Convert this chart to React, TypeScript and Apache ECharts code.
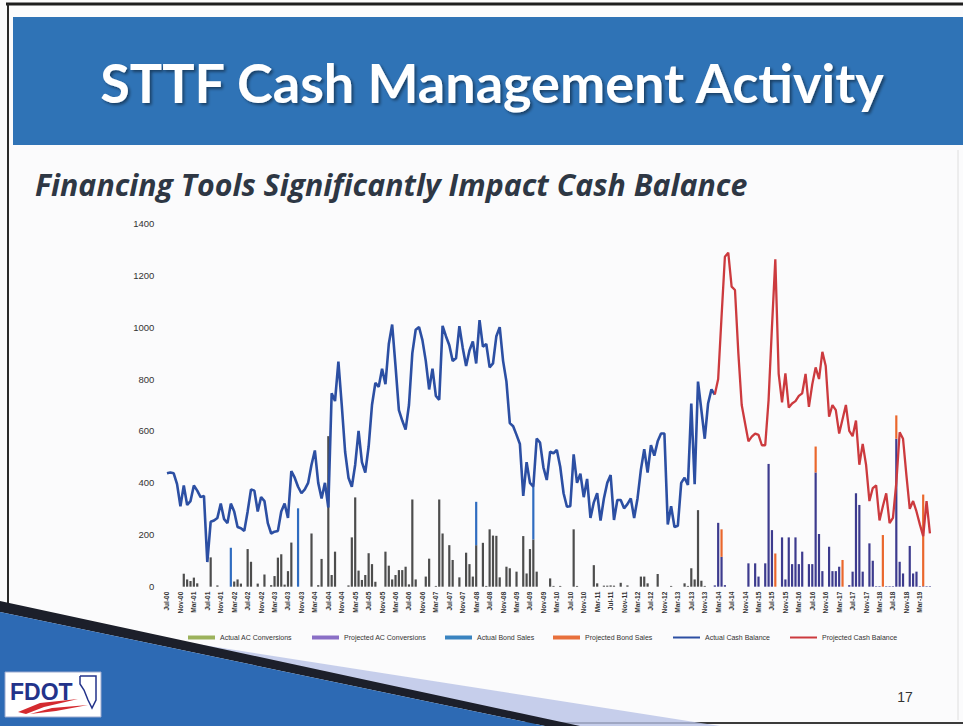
import React, { useEffect, useRef } from "react";
import * as echarts from "echarts";

const MONTH_NAMES = ["Jan", "Feb", "Mar", "Apr", "May", "Jun", "Jul", "Aug", "Sep", "Oct", "Nov", "Dec"];
// Monthly categories Jul-00 .. Jun-19
const categories: string[] = [];
for (let i = 0; i < 228; i++) {
  const m = (6 + i) % 12;
  const y = Math.floor((6 + i) / 12);
  categories.push(`${MONTH_NAMES[m]}-${String(y).padStart(2, "0")}`);
}

const yTicks = [0, 200, 400, 600, 800, 1000, 1200, 1400];

// Cash balance ($M), one value per month; projection starts Feb-14
const cashBalance: number[] = [
  437, 440, 437, 395, 310, 390, 315, 330, 390, 370, 345, 350,
  95, 250, 255, 265, 320, 260, 245, 320, 290, 230, 225, 215,
  290, 375, 370, 290, 345, 330, 245, 205, 212, 215, 290, 320,
  265, 445, 420, 385, 360, 375, 400, 470, 525, 400, 340, 400,
  305, 745, 715, 867, 700, 520, 420, 385, 470, 600, 480, 440,
  540, 700, 785, 770, 840, 780, 935, 1010, 850, 680, 640, 605,
  700, 900, 990, 1000, 950, 870, 760, 840, 735, 720, 1005, 965,
  930, 870, 880, 1004, 920, 850, 910, 945, 860, 1027, 925, 935,
  845, 860, 965, 1000, 870, 790, 630, 618, 585, 550, 350, 480,
  400, 385, 571, 555, 460, 411, 520, 514, 527, 462, 360, 308,
  310, 510, 400, 435, 345, 415, 265, 325, 360, 255, 340, 400,
  430, 257, 334, 334, 302, 318, 340, 265, 340, 450, 530, 440,
  545, 505, 560, 590, 590, 240, 310, 230, 235, 400, 420, 392,
  706, 395, 790, 680, 570, 706, 760, 740, 800, 1040, 1271, 1287,
  1156, 1143, 900, 700, 630, 560, 578, 590, 585, 545, 545, 720,
  1000, 1261, 820, 710, 822, 690, 706, 715, 735, 745, 820, 693,
  780, 845, 800, 905, 850, 655, 700, 680, 590, 645, 700, 600,
  580, 640, 470, 550, 470, 330, 380, 390, 255, 310, 360, 245,
  265, 400, 595, 570, 430, 300, 330, 290, 240, 195, 330, 205,
];
const projectionStart = "Feb-14";

const actualACConversions: [string, number][] = [
  ["Dec-00", 50], ["Jan-01", 28], ["Feb-01", 22], ["Mar-01", 35], ["Apr-01", 13],
  ["Aug-01", 113], ["Oct-01", 5], ["Mar-02", 20], ["Apr-02", 28], ["May-02", 12],
  ["Jul-02", 145], ["Aug-02", 96], ["Oct-02", 12], ["Dec-02", 47], ["Feb-03", 6],
  ["Mar-03", 41], ["Apr-03", 112], ["May-03", 125], ["Jun-03", 8], ["Jul-03", 60],
  ["Aug-03", 170], ["Feb-04", 205], ["Apr-04", 6], ["May-04", 107], ["Jul-04", 580],
  ["Aug-04", 45], ["Sep-04", 135], ["Jan-05", 5], ["Feb-05", 190], ["Mar-05", 344],
  ["Apr-05", 62], ["May-05", 26], ["Jun-05", 45], ["Jul-05", 129], ["Aug-05", 87],
  ["Sep-05", 19], ["Dec-05", 135], ["Jan-06", 81], ["Feb-06", 28], ["Mar-06", 45],
  ["Apr-06", 64], ["May-06", 64], ["Jun-06", 77], ["Jul-06", 9], ["Aug-06", 336],
  ["Sep-06", 28], ["Dec-06", 39], ["Jan-07", 108], ["Mar-07", 3], ["Apr-07", 336],
  ["May-07", 205], ["Jul-07", 160], ["Aug-07", 103], ["Oct-07", 36], ["Dec-07", 131],
  ["Jan-08", 87], ["Feb-08", 39], ["Mar-08", 160], ["May-08", 169], ["Jun-08", 3],
  ["Jul-08", 221], ["Aug-08", 197], ["Sep-08", 196], ["Oct-08", 36], ["Dec-08", 77],
  ["Jan-09", 71], ["Mar-09", 58], ["May-09", 195], ["Jun-09", 51], ["Jul-09", 145],
  ["Aug-09", 182], ["Sep-09", 58], ["Jan-10", 32], ["Feb-10", 3], ["Apr-10", 3],
  ["Aug-10", 221], ["Sep-10", 3], ["Feb-11", 83], ["Mar-11", 13], ["May-11", 4],
  ["Jun-11", 4], ["Jul-11", 5], ["Aug-11", 4], ["Oct-11", 15], ["Dec-11", 5],
  ["Apr-12", 39], ["May-12", 39], ["Jun-12", 13], ["Sep-12", 49], ["Jan-13", 3],
  ["May-13", 13], ["Jun-13", 3], ["Jul-13", 71], ["Aug-13", 28], ["Sep-13", 295],
  ["Oct-13", 23], ["Nov-13", 3],
];

const projectedACConversions: [string, number][] = [
  ["Feb-14", 5], ["Mar-14", 246], ["Apr-14", 115], ["May-14", 6], ["Dec-14", 90],
  ["Feb-15", 90], ["Mar-15", 39], ["May-15", 90], ["Jun-15", 473], ["Jul-15", 218],
  ["Oct-15", 190], ["Nov-15", 28], ["Dec-15", 190], ["Jan-16", 87], ["Feb-16", 190],
  ["Mar-16", 87], ["Apr-16", 135], ["Jun-16", 87], ["Jul-16", 87], ["Aug-16", 440],
  ["Sep-16", 203], ["Oct-16", 60], ["Dec-16", 154], ["Jan-17", 60], ["Feb-17", 60],
  ["Mar-17", 77], ["Jun-17", 6], ["Jul-17", 58], ["Aug-17", 360], ["Sep-17", 315],
  ["Oct-17", 58], ["Dec-17", 167], ["Jan-18", 100], ["Feb-18", 2], ["Mar-18", 2],
  ["May-18", 2], ["Jun-18", 2], ["Jul-18", 2], ["Aug-18", 570], ["Sep-18", 96],
  ["Oct-18", 51], ["Dec-18", 157], ["Jan-19", 51], ["Feb-19", 58], ["Mar-19", 2],
  ["Apr-19", 2], ["May-19", 2], ["Jun-19", 2],
];

const actualBondSales: [string, number][] = [
  ["Feb-02", 150], ["Oct-03", 302], ["Mar-08", 167], ["Aug-09", 203],
];

const projectedBondSales: [string, number][] = [
  ["Apr-14", 106], ["Aug-15", 128], ["Aug-16", 100], ["Apr-17", 103],
  ["Apr-18", 199], ["Aug-18", 90], ["Apr-19", 353],
];

const toFull = (list: [string, number][]) => {
  const arr: (number | null)[] = categories.map(() => null);
  list.forEach(([c, v]) => {
    const i = categories.indexOf(c);
    if (i >= 0) arr[i] = v;
  });
  return arr;
};

const splitIdx = categories.indexOf(projectionStart);
const actualCash = cashBalance.map((v, i) => (i <= splitIdx ? v : null));
const projectedCash = cashBalance.map((v, i) => (i >= splitIdx ? v : null));

const COLORS = {
  acBar: "#4d4d4d",
  acLegend: "#9cb25c",
  pacBar: "#3d3b8e",
  pacLegend: "#8a6fc6",
  bondBar: "#2f6cc0",
  bondLegend: "#3a84c0",
  pbondBar: "#ea672c",
  pbondLegend: "#e8703c",
  cash: "#2c4fa3",
  pcash: "#cc3a3e",
};

export default function App() {
  const ref = useRef<HTMLDivElement>(null);
  useEffect(() => {
    if (!ref.current) return;
    const chart = echarts.init(ref.current, undefined, { renderer: "svg" });
    const legendText = { fontSize: 7, color: "#333", fontFamily: "Liberation Sans Narrow, Liberation Sans, sans-serif" };
    const mkLegend = (name: string, left: number, color: string, h: number) => ({
      data: [{ name, itemStyle: { color } }],
      left,
      top: 634,
      icon: "rect",
      itemWidth: 27,
      itemHeight: h,
      itemGap: 0,
      textStyle: legendText,
      padding: 0,
    });
    const option: any = {
      animation: false,
      backgroundColor: "#ffffff",
      grid: { left: 165.3, right: 31.4, top: 223.3, bottom: 139.3 },
      legend: [
        mkLegend("Actual AC Conversions", 188, COLORS.acLegend, 4),
        mkLegend("Projected AC Conversions", 312, COLORS.pacLegend, 4),
        mkLegend("Actual Bond Sales", 445, COLORS.bondLegend, 4),
        mkLegend("Projected Bond Sales", 553, COLORS.pbondLegend, 4),
        mkLegend("Actual Cash Balance", 673, COLORS.cash, 2),
        mkLegend("Projected Cash Balance", 790, COLORS.pcash, 2),
      ],
      xAxis: {
        type: "category",
        data: categories,
        boundaryGap: true,
        axisLine: { show: false },
        axisTick: { show: false },
        axisLabel: {
          interval: 3,
          rotate: 90,
          fontSize: 6.5,
          fontWeight: "bold",
          margin: 5,
          color: "#333",
          fontFamily: "Liberation Sans Narrow, Liberation Sans, sans-serif",
        },
      },
      yAxis: {
        type: "value",
        min: 0,
        max: 1400,
        interval: 200,
        axisLine: { show: false },
        axisTick: { show: false },
        splitLine: { show: false },
        axisLabel: {
          fontSize: 9.5,
          color: "#333",
          margin: 11,
          fontFamily: "Liberation Sans, sans-serif",
          formatter: (v: number) => (yTicks.includes(v) ? String(v) : ""),
        },
      },
      series: [
        {
          name: "Actual AC Conversions",
          type: "bar",
          stack: "fin",
          barWidth: 2.2,
          itemStyle: { color: COLORS.acBar },
          data: toFull(actualACConversions),
        },
        {
          name: "Projected AC Conversions",
          type: "bar",
          stack: "fin",
          barWidth: 2.2,
          itemStyle: { color: COLORS.pacBar },
          data: toFull(projectedACConversions),
        },
        {
          name: "Actual Bond Sales",
          type: "bar",
          stack: "fin",
          barWidth: 2.2,
          itemStyle: { color: COLORS.bondBar },
          data: toFull(actualBondSales),
        },
        {
          name: "Projected Bond Sales",
          type: "bar",
          stack: "fin",
          barWidth: 2.2,
          itemStyle: { color: COLORS.pbondBar },
          data: toFull(projectedBondSales),
        },
        {
          name: "Actual Cash Balance",
          type: "line",
          symbol: "none",
          lineStyle: { color: COLORS.cash, width: 2.6 },
          itemStyle: { color: COLORS.cash },
          data: actualCash,
          z: 3,
        },
        {
          name: "Projected Cash Balance",
          type: "line",
          symbol: "none",
          lineStyle: { color: COLORS.pcash, width: 2.3 },
          itemStyle: { color: COLORS.pcash },
          data: projectedCash,
          z: 3,
        },
      ],
      graphic: [
        // frame
        { type: "rect", z: 0, shape: { x: 0, y: 0, width: 963, height: 726 }, style: { fill: "#fbfbfc" } },
        { type: "line", z: 1, shape: { x1: 6, y1: 4, x2: 963, y2: 4 }, style: { stroke: "#1e1e1e", lineWidth: 3 } },
        { type: "line", z: 1, shape: { x1: 8, y1: 4, x2: 8, y2: 610 }, style: { stroke: "#2a2a2a", lineWidth: 2 } },
        { type: "line", z: 1, shape: { x1: 0, y1: 723, x2: 963, y2: 723 }, style: { stroke: "#3a3a3a", lineWidth: 2 } },
        { type: "line", z: 1, shape: { x1: 958, y1: 150, x2: 958, y2: 720 }, style: { stroke: "#dedede", lineWidth: 1 } },
        // banner
        { type: "rect", z: 1, shape: { x: 13, y: 17, width: 950, height: 128 }, style: { fill: "#2f73b6" } },
        {
          type: "text",
          z: 2,
          x: 492,
          y: 82,
          style: {
            text: "STTF Cash Management Activity",
            fill: "#ffffff",
            fontSize: 54,
            fontWeight: "bold",
            fontFamily: "Lato, 'Open Sans', sans-serif",
            align: "center",
            verticalAlign: "middle",
            textShadowColor: "rgba(0,0,0,0.45)",
            textShadowBlur: 3,
            textShadowOffsetX: 2,
            textShadowOffsetY: 2,
          },
        },
        {
          type: "text",
          z: 2,
          x: 35,
          y: 184,
          style: {
            text: "Financing Tools Significantly Impact Cash Balance",
            fill: "#2e3744",
            fontSize: 30.3,
            fontWeight: "bold",
            fontStyle: "italic",
            fontFamily: "'Open Sans', Lato, sans-serif",
            align: "left",
            verticalAlign: "middle",
          },
        },
        // bottom-left decoration
        { type: "polygon", z: 1, shape: { points: [[120, 632], [720, 726], [560, 726]] }, style: { fill: "#b9c3e6", opacity: 0.8 } },
        { type: "polygon", z: 1, shape: { points: [[0, 601], [0, 612], [545, 726], [580, 726]] }, style: { fill: "#1c1f2a" } },
        { type: "polygon", z: 1, shape: { points: [[0, 612], [0, 726], [545, 726]] }, style: { fill: "#2d6ab4" } },
        // FDOT logo
        { type: "rect", z: 2, shape: { x: 5, y: 672, width: 96, height: 45 }, style: { fill: "#ffffff", stroke: "#9aa9cf", lineWidth: 1 } },
        {
          type: "text",
          z: 3,
          x: 10,
          y: 692,
          style: {
            text: "FDOT",
            fill: "#23338a",
            fontSize: 23,
            fontWeight: "bold",
            fontFamily: "'Liberation Sans', sans-serif",
            align: "left",
            verticalAlign: "middle",
          },
        },
        { type: "polygon", z: 3, shape: { points: [[18, 712], [40, 703], [78, 699], [44, 707], [26, 714]] }, style: { fill: "#d42a2f" } },
        { type: "polygon", z: 3, shape: { points: [[30, 714], [52, 708], [88, 705], [56, 711]] }, style: { fill: "#d42a2f" } },
        { type: "polyline", z: 3, shape: { points: [[80, 676], [96, 676], [96, 700], [92, 708], [88, 700], [84, 690], [80, 684], [80, 676]] }, style: { fill: "none", stroke: "#23338a", lineWidth: 1.5 } },
        {
          type: "text",
          z: 2,
          x: 905,
          y: 697,
          style: {
            text: "17",
            fill: "#333",
            fontSize: 14,
            fontFamily: "'Liberation Sans Narrow', 'Liberation Sans', sans-serif",
            align: "center",
            verticalAlign: "middle",
          },
        },
      ],
    };
    chart.setOption(option);
    return () => chart.dispose();
  }, []);
  return <div ref={ref} style={{ position: "fixed", left: 0, top: 0, width: 963, height: 726 }} />;
}
